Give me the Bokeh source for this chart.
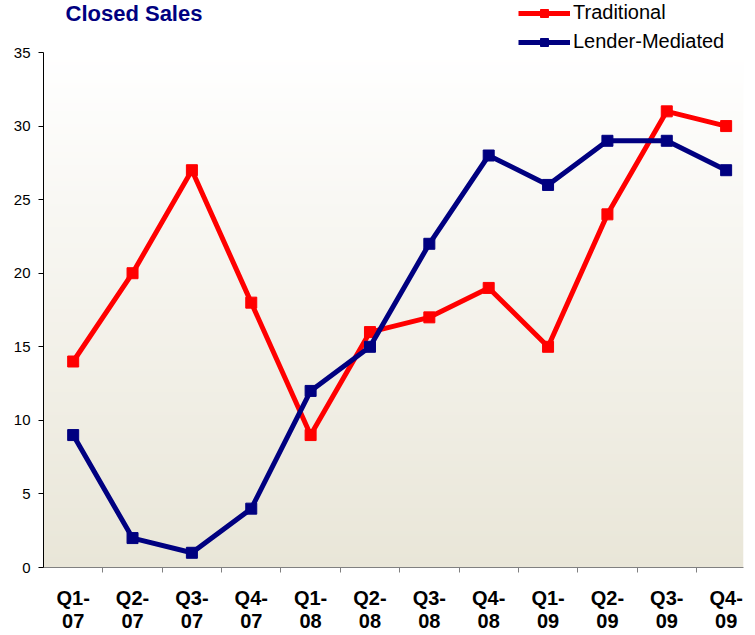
import numpy as np
from bokeh.plotting import figure
from bokeh.models import FixedTicker, Legend, LegendItem, Label, Range1d
from bokeh.embed import file_html
from bokeh.resources import INLINE

# ---- data ----
quarters = ["Q1-\n07", "Q2-\n07", "Q3-\n07", "Q4-\n07",
            "Q1-\n08", "Q2-\n08", "Q3-\n08", "Q4-\n08",
            "Q1-\n09", "Q2-\n09", "Q3-\n09", "Q4-\n09"]
traditional = [14, 20, 27, 18, 9, 16, 17, 19, 15, 24, 31, 30]
lender_mediated = [9, 2, 1, 4, 12, 15, 22, 28, 26, 29, 29, 27]
y_ticks = [0, 5, 10, 15, 20, 25, 30, 35]
y_max = 35
title_text = "Closed Sales"

x = list(range(len(quarters)))

# ---- layout (pixels) ----
W, H = 755, 635
LEFT, RIGHT, BOTTOM = 43, 12, 68
FRAME_W = W - LEFT - RIGHT          # 700
FRAME_H = H - BOTTOM                # 567 (frame reaches the top of canvas)
PLOT_TOP = 52                       # pixel row of y = 35
px_per_y = (FRAME_H - PLOT_TOP) / y_max
x_start = -0.5
x_end = x_start + FRAME_W / 59.36
y_end = FRAME_H / px_per_y

FONT = "Liberation Sans"

p = figure(width=W, height=H, output_backend="svg", toolbar_location=None,
           x_range=Range1d(x_start, x_end), y_range=Range1d(0, y_end),
           min_border_left=LEFT, min_border_right=RIGHT, min_border_top=0,
           min_border_bottom=BOTTOM)
p.xgrid.visible = False
p.ygrid.visible = False
p.outline_line_color = None
p.border_fill_color = "white"
p.background_fill_color = "white"

# gradient plot-area background (white top -> beige bottom)
n = 200
t = np.linspace(0, 1, n)
top = np.array([255, 255, 255], dtype=float)
bot = np.array([233, 230, 216], dtype=float)
cols = bot + (top - bot) * t[:, None]
img = np.zeros((n, 1), dtype=np.uint32)
view = img.view(dtype=np.uint8).reshape((n, 1, 4))
view[:, 0, 0] = cols[:, 0].round().astype(np.uint8)
view[:, 0, 1] = cols[:, 1].round().astype(np.uint8)
view[:, 0, 2] = cols[:, 2].round().astype(np.uint8)
view[:, 0, 3] = 255
p.image_rgba(image=[img], x=x_start, y=0, dw=x_end - x_start, dh=y_max)

# x axis
xa = p.xaxis[0]
xa.ticker = FixedTicker(ticks=x, minor_ticks=[i + 0.5 for i in range(len(x) - 1)])
xa.major_label_overrides = {i: q for i, q in enumerate(quarters)}
xa.major_tick_line_color = None
xa.major_tick_out = 0
xa.major_tick_in = 0
xa.minor_tick_line_color = "#808080"
xa.minor_tick_out = 5
xa.minor_tick_in = 0
xa.axis_line_color = "#808080"
xa.major_label_text_font = FONT
xa.major_label_text_font_style = "bold"
xa.major_label_text_font_size = "20px"
xa.major_label_text_line_height = 1.05
xa.major_label_text_color = "black"
xa.major_label_standoff = 14

# y axis
ya = p.yaxis[0]
ya.ticker = FixedTicker(ticks=y_ticks)
ya.bounds = (0, y_max)
ya.minor_tick_line_color = None
ya.major_tick_out = 5
ya.major_tick_in = 0
ya.axis_line_color = "black"
ya.major_tick_line_color = "black"
ya.major_label_text_font = FONT
ya.major_label_text_font_size = "15px"
ya.major_label_text_color = "black"
ya.major_label_standoff = 8

# series
r1 = p.line(x, traditional, line_color="#FF0000", line_width=5)
s1 = p.scatter(x, traditional, marker="square", size=11, color="#FF0000")
r2 = p.line(x, lender_mediated, line_color="#000080", line_width=5)
s2 = p.scatter(x, lender_mediated, marker="square", size=11, color="#000080")

legend = Legend(items=[LegendItem(label="Traditional", renderers=[r1, s1]),
                       LegendItem(label="Lender-Mediated", renderers=[r2, s2])],
                location=(475, 514), orientation="vertical",
                glyph_width=52, glyph_height=20, label_height=20,
                label_standoff=3, spacing=6, padding=0, margin=0,
                border_line_color=None, background_fill_alpha=0,
                label_text_font=FONT, label_text_font_size="20px",
                label_text_color="black")
p.add_layout(legend, "center")

title = Label(x=x_start, y=y_end, x_offset=22, y_offset=-13, text=title_text,
              text_baseline="alphabetic", text_font=FONT, text_font_style="bold",
              text_font_size="22px", text_color="#000080")
p.add_layout(title)

open("out.html", "w").write(file_html(p, INLINE))
